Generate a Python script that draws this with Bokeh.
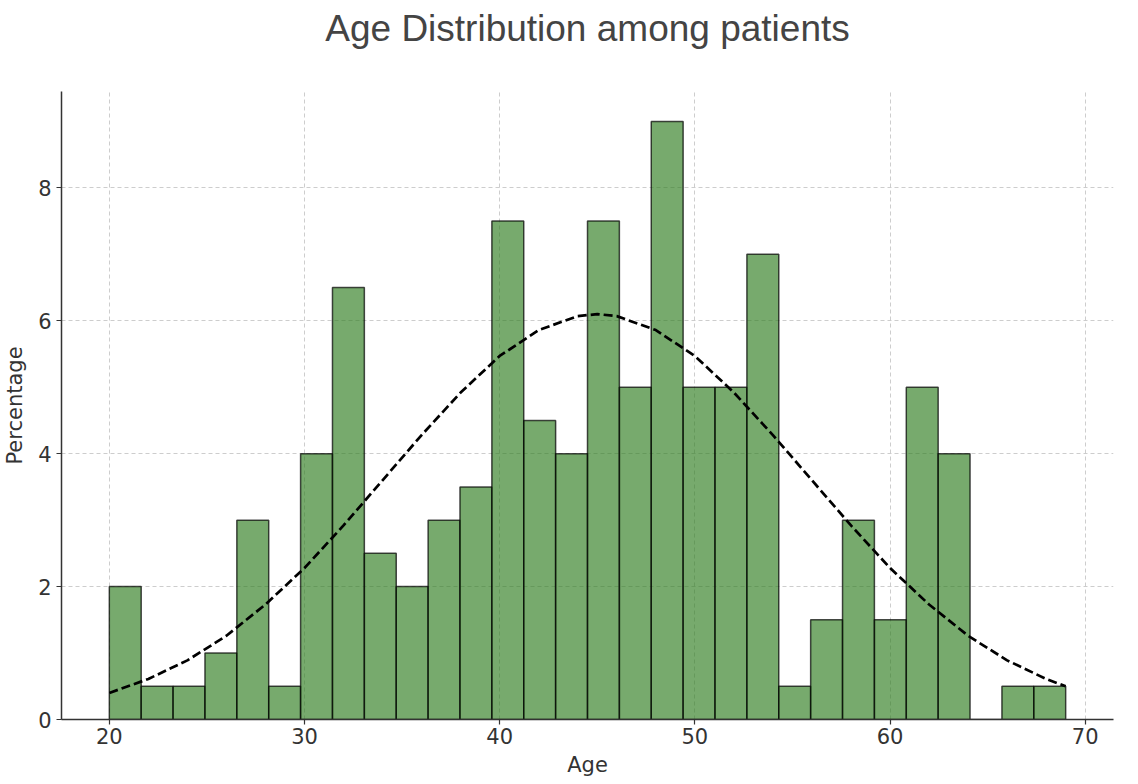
import numpy as np
from bokeh.plotting import figure
from bokeh.models import Range1d, FixedTicker, Title
from bokeh.embed import file_html
from bokeh.resources import INLINE

# ---- data ----
age_min = 20
age_max = 69
n_bins = 30
percentages = [2, 0.5, 0.5, 1, 3, 0.5, 4, 6.5, 2.5, 2,
               3, 3.5, 7.5, 4.5, 4, 7.5, 5, 9, 5, 5,
               7, 0.5, 1.5, 3, 1.5, 5, 4, 0, 0.5, 0.5]
curve_x = [20, 22, 24, 26, 28, 30, 32, 34, 36, 38, 40, 42, 44, 45,
           46, 48, 50, 52, 54, 56, 58, 60, 62, 64, 66, 68, 69]
curve_y = [0.40, 0.61, 0.89, 1.26, 1.73, 2.28, 2.92, 3.60, 4.28, 4.92, 5.47, 5.86, 6.07, 6.10,
           6.07, 5.86, 5.47, 4.92, 4.28, 3.60, 2.92, 2.28, 1.73, 1.26, 0.89, 0.61, 0.50]
x_ticks = [20, 30, 40, 50, 60, 70]
y_ticks = [0, 2, 4, 6, 8]
title_text = "Age Distribution among patients"

edges = np.linspace(age_min, age_max, n_bins + 1)
left = edges[:-1]
right = edges[1:]

p = figure(frame_width=1052, frame_height=628, output_backend="svg", toolbar_location=None,
           x_range=Range1d(17.55, 71.45), y_range=Range1d(0, 9.45),
           min_border_left=52, min_border_right=18, min_border_top=91, min_border_bottom=55)

p.title.text = title_text
p.title.align = "center"
p.title.text_font = "Liberation Sans"
p.title.text_font_size = "37px"
p.title.text_font_style = "normal"
p.title.text_color = "#444444"
p.title.standoff = 0

# spacer between the title and the plot frame
p.add_layout(Title(text=" ", text_font_size="1px", standoff=40), "above")

p.outline_line_color = None
p.background_fill_color = "white"

# grid
for g in (p.xgrid, p.ygrid):
    g.grid_line_color = "#c8c8c8"
    g.grid_line_dash = "4 3"
    g.grid_line_width = 1
    g.grid_line_alpha = 0.9
p.xgrid.ticker = FixedTicker(ticks=x_ticks)
p.ygrid.ticker = FixedTicker(ticks=y_ticks)

# bars
p.quad(left=left, right=right, bottom=0, top=percentages,
       fill_color="#2E7D1E", fill_alpha=0.65,
       line_color="black", line_alpha=0.7, line_width=1.5)

# fitted curve
p.line(curve_x, curve_y, line_color="black", line_dash="9 4", line_width=2.7)

# axes
for ax in (p.xaxis, p.yaxis):
    ax.axis_line_color = "#333333"
    ax.axis_line_width = 1.5
    ax.major_tick_line_color = "#333333"
    ax.major_tick_line_width = 1.2
    ax.major_tick_out = 5
    ax.major_tick_in = 0
    ax.minor_tick_line_color = None
    ax.major_label_text_font = "DejaVu Sans"
    ax.major_label_text_font_size = "21px"
    ax.major_label_text_color = "#333333"
    ax.axis_label_text_font = "DejaVu Sans"
    ax.axis_label_text_font_size = "21px"
    ax.axis_label_text_font_style = "normal"
    ax.axis_label_text_color = "#333333"

p.xaxis.ticker = FixedTicker(ticks=x_ticks)
p.yaxis.ticker = FixedTicker(ticks=y_ticks)
p.xaxis.axis_label = "Age"
p.yaxis.axis_label = "Percentage"
p.xaxis.axis_label_standoff = 6
p.yaxis.axis_label_standoff = 8
p.xaxis.major_label_standoff = 3
p.yaxis.major_label_standoff = 5

open("out.html", "w").write(file_html(p, INLINE))
